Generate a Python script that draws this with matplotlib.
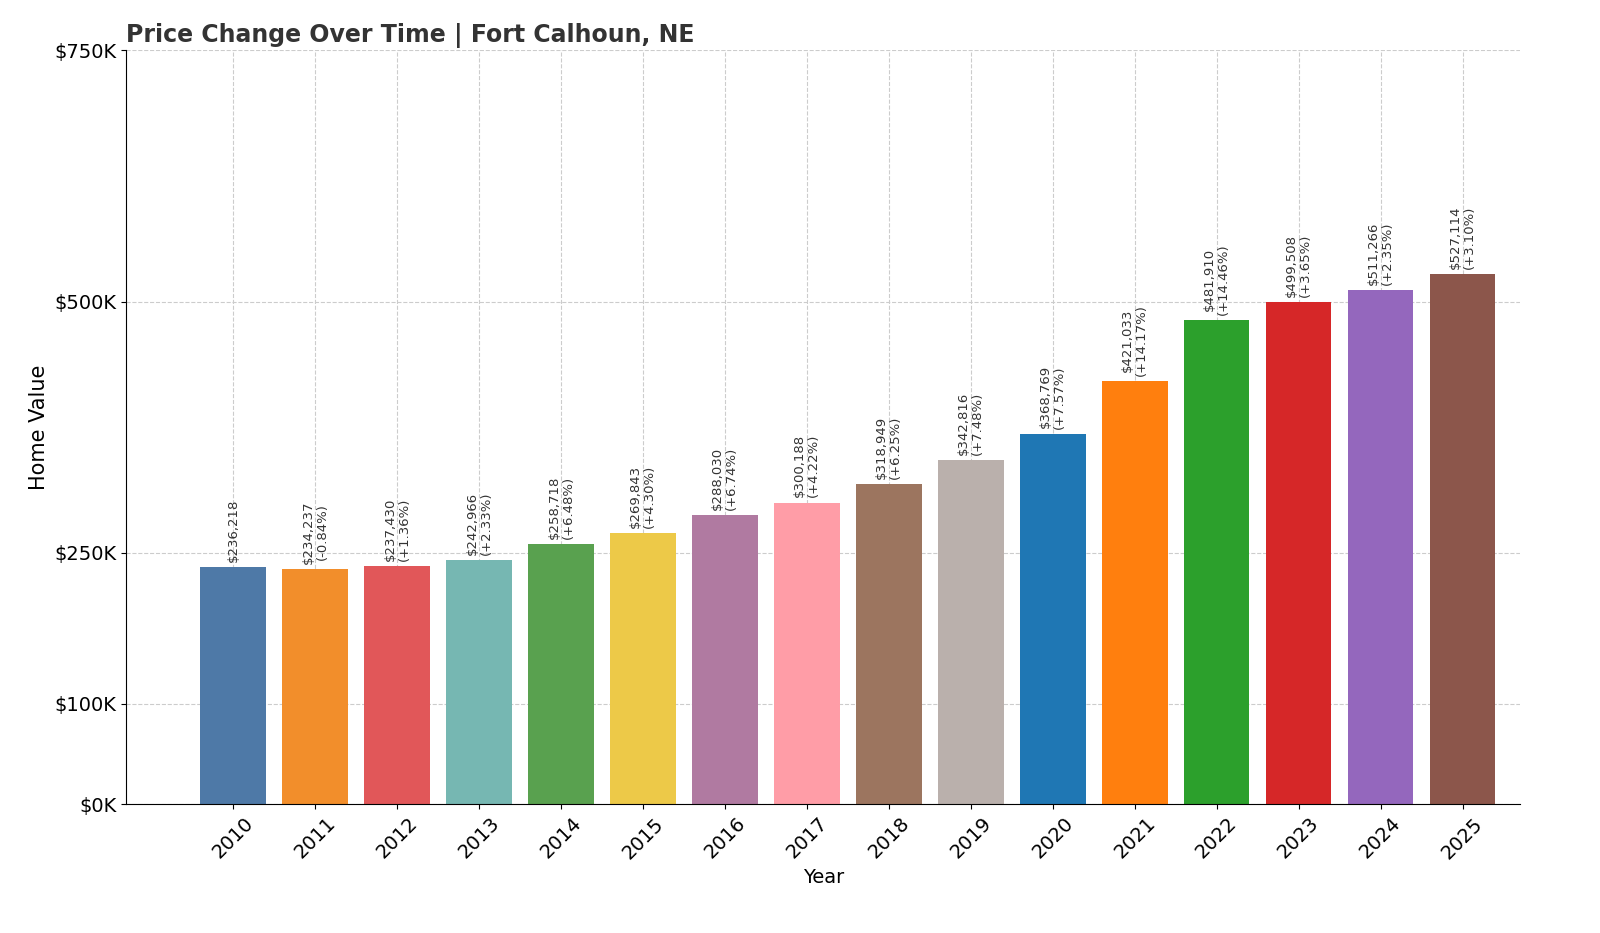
import matplotlib.pyplot as plt

years = [str(y) for y in range(2010, 2026)]
values = [236218, 234237, 237430, 242966, 258718, 269843, 288030, 300188,
          318949, 342816, 368769, 421033, 481910, 499508, 511266, 527114]
pct = [None, -0.84, 1.36, 2.33, 6.48, 4.30, 6.74, 4.22,
       6.25, 7.48, 7.57, 14.17, 14.46, 3.65, 2.35, 3.10]
colors = ['#4e79a7', '#f28e2b', '#e15759', '#76b7b2', '#59a14f', '#edc948',
          '#b07aa1', '#ff9da7', '#9c755f', '#bab0ac', '#1f77b4', '#ff7f0e',
          '#2ca02c', '#d62728', '#9467bd', '#8c564b']
yticks = [0, 100000, 250000, 500000, 750000]
ytick_labels = ['$0K', '$100K', '$250K', '$500K', '$750K']

fig = plt.figure(figsize=(16, 9.33), dpi=100)
ax = fig.add_axes([0.079, 0.138, 0.871, 0.808])
x = range(len(years))
ax.bar(x, values, color=colors, width=0.8, zorder=2)
for i, v in enumerate(values):
    lbl = f"${v:,}" if pct[i] is None else f"${v:,}\n({pct[i]:+.2f}%)"
    ax.text(i, v + 5000, lbl, rotation=90, ha='center', va='bottom',
            fontsize=9.5, color='#333333', linespacing=1.1)
ax.set_ylim(0, 750000)
ax.set_yticks(yticks)
ax.set_yticklabels(ytick_labels, fontsize=14)
ax.set_xticks(list(x))
ax.set_xticklabels(years, rotation=45, fontsize=14)
ax.set_xlim(-1.3, 15.7)
ax.grid(True, linestyle='--', color='#cccccc', zorder=0)
for s in ['top', 'right']:
    ax.spines[s].set_visible(False)
ax.set_xlabel('Year', fontsize=14)
ax.set_ylabel('Home Value', fontsize=15)
ax.set_title('Price Change Over Time | Fort Calhoun, NE', loc='left',
             fontsize=17, fontweight='bold', color='#333333')
fig.savefig('out.png')
